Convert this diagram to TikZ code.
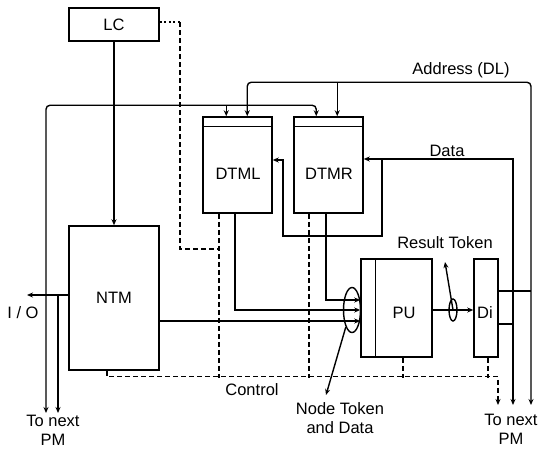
\documentclass[tikz,border=0pt]{standalone}
\usepackage{fontspec}
\setmainfont{Liberation Sans}
\usetikzlibrary{arrows.meta,calc,shapes.geometric}
\begin{document}
\begin{tikzpicture}[x=1pt,y=-1pt,
  box/.style={draw, line width=1.5pt, inner sep=0pt},
  conn/.style={line width=1.4pt},
  arr/.style={conn, -{Stealth[length=6pt,width=5pt]}},
  arrb/.style={conn, {Stealth[length=6pt,width=5pt]}-{Stealth[length=6pt,width=5pt]}},
  ctl/.style={line width=1.4pt, dash pattern=on 5pt off 3pt},
  ctlarr/.style={ctl, -{Stealth[length=6pt,width=5pt]}},
  lbl/.style={font=\fontsize{16.5}{19}\selectfont, inner sep=0pt, align=center},
  every node/.append style={font=\fontsize{16.5}{19}\selectfont}
]
\useasboundingbox (0,0) rectangle (541,451);

% boxes
\node[box, minimum width=90pt, minimum height=33pt] (LC) at (114,24.5) {LC};
\node[box, minimum width=90pt, minimum height=144pt] (NTM) at (114,298) {NTM};
\node[box, minimum width=69pt, minimum height=96pt] (DTML) at (237.5,165) {};
\node[lbl] (DTMLt) at (238,174) {DTML};
\node[box, minimum width=69pt, minimum height=96pt] (DTMR) at (328.5,165) {};
\node[lbl] (DTMRt) at (329,174) {DTMR};
\node[box, minimum width=71pt, minimum height=98pt] (PU) at (396.5,308) {};
\node[lbl] (PUt) at (404,313) {PU};
\node[box, minimum width=24pt, minimum height=98pt] (Di) at (486,308) {};
\node[lbl] (Dit) at (485,313) {Di};

% strips
\draw[line width=1.5pt] ([yshift=-10]DTML.north west) -- ([yshift=-10]DTML.north east);
\draw[line width=1.5pt] ([yshift=-10]DTMR.north west) -- ([yshift=-10]DTMR.north east);
\draw[line width=1.5pt] ([xshift=15]PU.north west) -- ([xshift=15]PU.south west);

% free ends
\coordinate (pmL1) at (46,413);
\coordinate (pmL2) at (58,413);
\coordinate (io) at (27,295);
\coordinate (pmR0) at (498,405);
\coordinate (pmR1) at (513,405);
\coordinate (pmR2) at (531,405);
\coordinate (ntk) at (326,395);
\coordinate (rt) at (445,262);
\coordinate (dj) at (382,159);

% LC -> NTM
\draw[arr] (LC) -- (NTM);

% lower bus
\draw[arrb, rounded corners=4pt] ([xshift=23]DTMR.north west) -- ++(0,-11) -| (pmL1);
\draw[arr] ([xshift=24,yshift=11]DTML.north west) -- ([xshift=24]DTML.north west);

% upper bus (Address)
\draw[arrb, rounded corners=4pt] ([xshift=45]DTML.north west) -- ++(0,-34) -| (pmR2);
\draw[arr] ([xshift=44,yshift=34]DTMR.north west) -- ([xshift=44]DTMR.north west);

% Data
\draw[arrb] ([yshift=6]DTMR.east) -| (pmR1);
\draw[arr] (dj) |- (283,236) |- ([yshift=5]DTML.east);

% Di to buses
\coordinate (di1) at ([yshift=17]Di.east);
\coordinate (di2) at ([yshift=-16]Di.east);
\draw[conn] (di1) -- (di1 -| pmR2);
\draw[conn] (di2) -- (di2 -| pmR1);

% inputs to PU
\coordinate (n1) at ([yshift=-23]NTM.east);
\draw[arr] (n1) -- (n1 -| PU.west);
\draw[arr] ([xshift=-2.5]DTML.south) |- ([yshift=-2]PU.west);
\draw[arr] ([xshift=-2.5]DTMR.south) |- ([yshift=8]PU.west);
\node[draw, ellipse, line width=1.4pt, inner sep=0pt, minimum width=17pt, minimum height=45pt] (inell) at (352,310) {};
\draw[arr] (inell.250) -- (ntk);

% PU -> Di
\coordinate (p1) at ([yshift=-2]PU.east);
\draw[arr] (p1) -- (p1 -| Di.west);
\node[draw, ellipse, line width=1.4pt, inner sep=0pt, minimum width=8pt, minimum height=22pt] (resell) at (453,310) {};
\draw[arr] (resell.center) -- (rt);

% I/O
\coordinate (io0) at ([yshift=3]NTM.west);
\draw[arr] (io0) -- (io);
\draw[arr] (io0 -| pmL2) -- (pmL2);

% control (dashed)
\coordinate (ctlL) at ([xshift=-18.5]DTML.south);
\coordinate (cx) at (180,249);
\coordinate (cy) at (180,22);
\draw[line width=1.4pt, dash pattern=on 2pt off 2.5pt] ([yshift=2.5]LC.east) -- (cy);
\draw[ctl] (cy) -- (cx) -- (cx -| ctlL);
\draw[ctl] (ctlL) -- ++(0,164);
\draw[ctl] ([xshift=-19.5]DTMR.south) -- ++(0,164);
\draw[ctl] ([xshift=6.5]PU.south) -- ++(0,20);
\draw[ctl] ([xshift=2]Di.south) -- ++(0,20);
\draw[ctlarr] ([xshift=-7]NTM.south) -- ++(0,6) -| (pmR0);

% labels
\node[lbl] (tAddr) at (461,70) {Address (DL)};
\node[lbl] (tData) at (447,151) {Data};
\node[lbl] (tRes) at (445,243) {Result Token};
\node[lbl] (tNode) at (340,418) {Node Token\\and Data};
\node[lbl] (tCtl) at (252,390) {Control};
\node[lbl] (tIO) at (23,313) {I / O};
\node[lbl] (tPML) at (53,430) {To next\\PM};
\node[lbl] (tPMR) at (511,429) {To next\\PM};
\end{tikzpicture}
\end{document}
